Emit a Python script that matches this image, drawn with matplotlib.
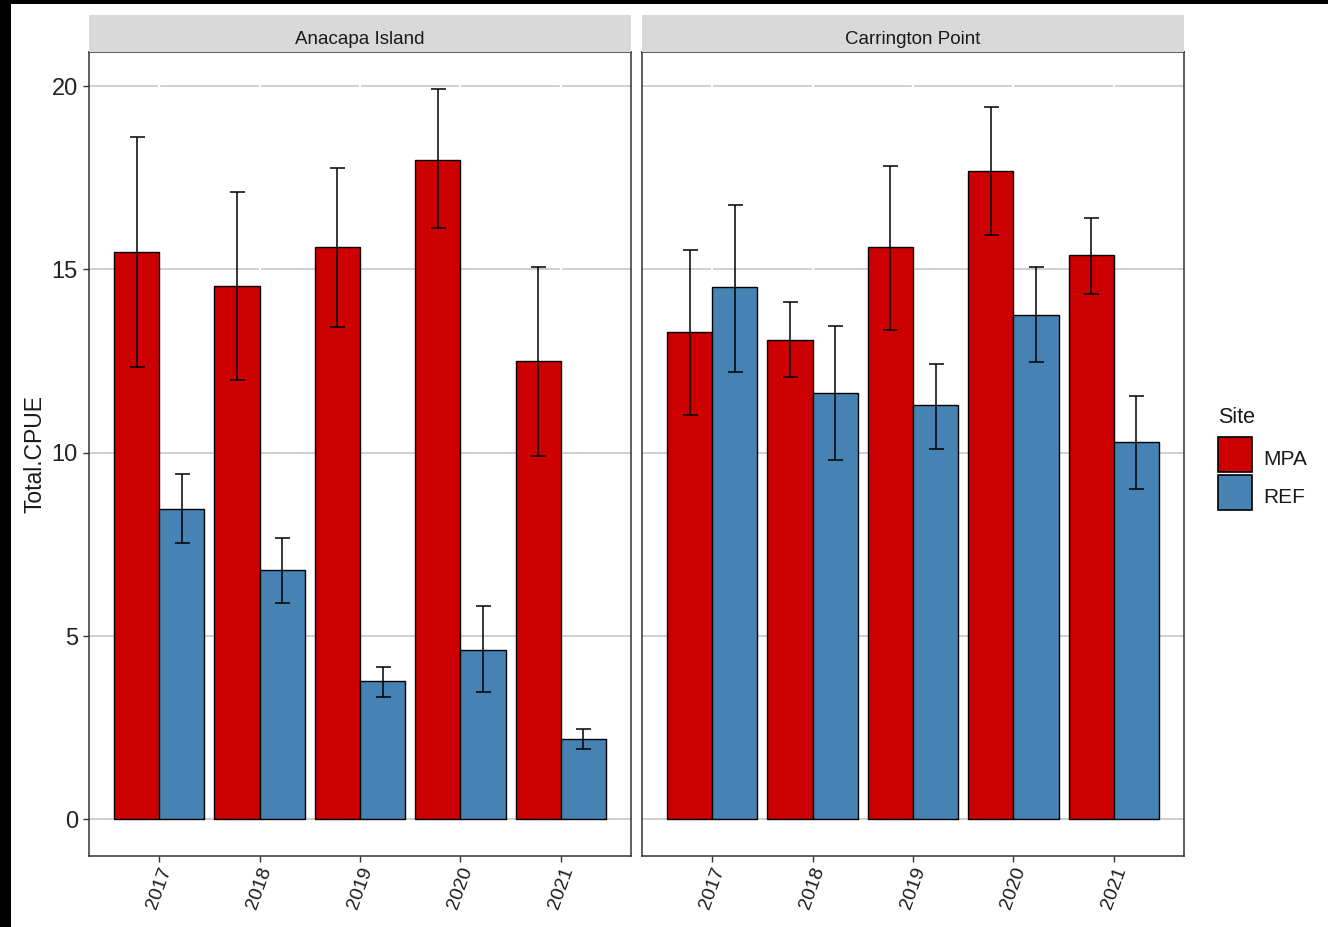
import matplotlib
matplotlib.use("Agg")
import matplotlib.pyplot as plt
from matplotlib.patches import Rectangle
import numpy as np

plt.rcParams['font.family'] = ['Liberation Sans', 'DejaVu Sans']

# ---- data -------------------------------------------------------------
years = ["2017", "2018", "2019", "2020", "2021"]
sites = ["Anacapa Island", "Carrington Point"]

# Anacapa Island
ana_mpa = [15.47, 14.56, 15.60, 17.99, 12.50]
ana_mpa_lo = [12.34, 11.98, 13.42, 16.12, 9.90]
ana_mpa_hi = [18.60, 17.12, 17.77, 19.91, 15.07]
ana_ref = [8.46, 6.81, 3.77, 4.63, 2.18]
ana_ref_lo = [7.55, 5.89, 3.33, 3.46, 1.93]
ana_ref_hi = [9.42, 7.67, 4.15, 5.81, 2.46]

# Carrington Point
car_mpa = [13.28, 13.07, 15.60, 17.69, 15.38]
car_mpa_lo = [11.03, 12.07, 13.34, 15.95, 14.34]
car_mpa_hi = [15.52, 14.12, 17.82, 19.44, 16.39]
car_ref = [14.51, 11.64, 11.29, 13.76, 10.29]
car_ref_lo = [12.20, 9.81, 10.11, 12.47, 9.02]
car_ref_hi = [16.77, 13.46, 12.42, 15.07, 11.55]

y_ticks = [0, 5, 10, 15, 20]
groups = ["MPA", "REF"]

# ---- styling ----------------------------------------------------------
MPA_COLOR = "#CC0000"
REF_COLOR = "#4682B4"
GRID_COLOR = "#cccccc"
FRAME_COLOR = "#333333"
STRIP_COLOR = "#d9d9d9"
TEXT_DARK = "#1a1a1a"

W, H = 1328, 927
fig = plt.figure(figsize=(W / 100, H / 100), dpi=100)
fig.patch.set_facecolor("white")

def fx(px):
    return px / W

def fy(py):
    return 1 - py / H

# thin black frame along the top and left edges
fig.patches.append(Rectangle((0, fy(4)), 1, 4 / H, transform=fig.transFigure,
                             facecolor="black", edgecolor="none", zorder=10))
fig.patches.append(Rectangle((0, 0), fx(11), 1, transform=fig.transFigure,
                             facecolor="black", edgecolor="none", zorder=10))

panel_lefts = [89, 642]
panel_w = 542
panel_top, panel_bot = 52, 856
strip_top = 15

panel_data = [
    (ana_mpa, ana_mpa_lo, ana_mpa_hi, ana_ref, ana_ref_lo, ana_ref_hi),
    (car_mpa, car_mpa_lo, car_mpa_hi, car_ref, car_ref_lo, car_ref_hi),
]

x = np.arange(1, len(years) + 1)
bw = 0.45

for i, (site, left) in enumerate(zip(sites, panel_lefts)):
    ax = fig.add_axes([fx(left), fy(panel_bot), panel_w / W,
                       (panel_bot - panel_top) / H])
    mpa, mpa_lo, mpa_hi, ref, ref_lo, ref_hi = panel_data[i]
    mpa = np.array(mpa); ref = np.array(ref)

    ax.bar(x - bw / 2, mpa, width=bw, color=MPA_COLOR, edgecolor="black",
           linewidth=1.0, zorder=3)
    ax.bar(x + bw / 2, ref, width=bw, color=REF_COLOR, edgecolor="black",
           linewidth=1.0, zorder=3)
    ax.errorbar(x - bw / 2, mpa,
                yerr=[mpa - np.array(mpa_lo), np.array(mpa_hi) - mpa],
                fmt="none", ecolor="black", elinewidth=1.1, capsize=5.4,
                capthick=1.1, zorder=4)
    ax.errorbar(x + bw / 2, ref,
                yerr=[ref - np.array(ref_lo), np.array(ref_hi) - ref],
                fmt="none", ecolor="black", elinewidth=1.1, capsize=5.4,
                capthick=1.1, zorder=4)

    ax.set_xlim(0.3, 5.7)
    ax.set_ylim(-1.0, 20.93)

    for yt in y_ticks:
        ax.axhline(yt, color=GRID_COLOR, linewidth=1.3, zorder=1)
    for xt in x:
        ax.axvline(xt, color="white", linewidth=1.5, zorder=2)

    ax.set_xticks(x)
    ax.set_xticklabels(years, rotation=70, ha="center", va="top",
                       fontsize=14, color=TEXT_DARK)
    ax.set_yticks(y_ticks)
    if i == 0:
        ax.set_yticklabels([str(v) for v in y_ticks], fontsize=17,
                           color="#222222")
        ax.tick_params(axis="y", length=4, width=1.0, color=FRAME_COLOR,
                       pad=4)
    else:
        ax.tick_params(axis="y", left=False, labelleft=False)
    ax.tick_params(axis="x", length=4, width=1.0, color=FRAME_COLOR, pad=2)

    for sp in ax.spines.values():
        sp.set_color(FRAME_COLOR)
        sp.set_linewidth(1.1)
        sp.set_zorder(5)

    # facet strip
    sax = fig.add_axes([fx(left), fy(panel_top), panel_w / W,
                        (panel_top - strip_top) / H])
    sax.set_facecolor(STRIP_COLOR)
    sax.set_xticks([]); sax.set_yticks([])
    for sp in sax.spines.values():
        sp.set_visible(False)
    fig.text(fx(left + panel_w / 2), fy(44), site, ha="center",
             va="baseline", fontsize=13.5, color=TEXT_DARK)

# axis title
fig.text(fx(35), fy(454), "Total.CPUE", rotation=90, ha="center",
         va="center", fontsize=16.5, color=TEXT_DARK)

# legend
fig.text(fx(1218), fy(423), "Site", ha="left", va="baseline", fontsize=15.5,
         color=TEXT_DARK)
key_colors = [MPA_COLOR, REF_COLOR]
key_tops = [437, 475]
for lab, col, top in zip(groups, key_colors, key_tops):
    fig.patches.append(Rectangle((fx(1218), fy(top + 35)), 34 / W, 35 / H,
                                 transform=fig.transFigure, facecolor=col,
                                 edgecolor="black", linewidth=1.2))
    fig.text(fx(1263), fy(top + 28), lab, ha="left", va="baseline",
             fontsize=15, color=TEXT_DARK)

fig.savefig("out.png", dpi=100)
